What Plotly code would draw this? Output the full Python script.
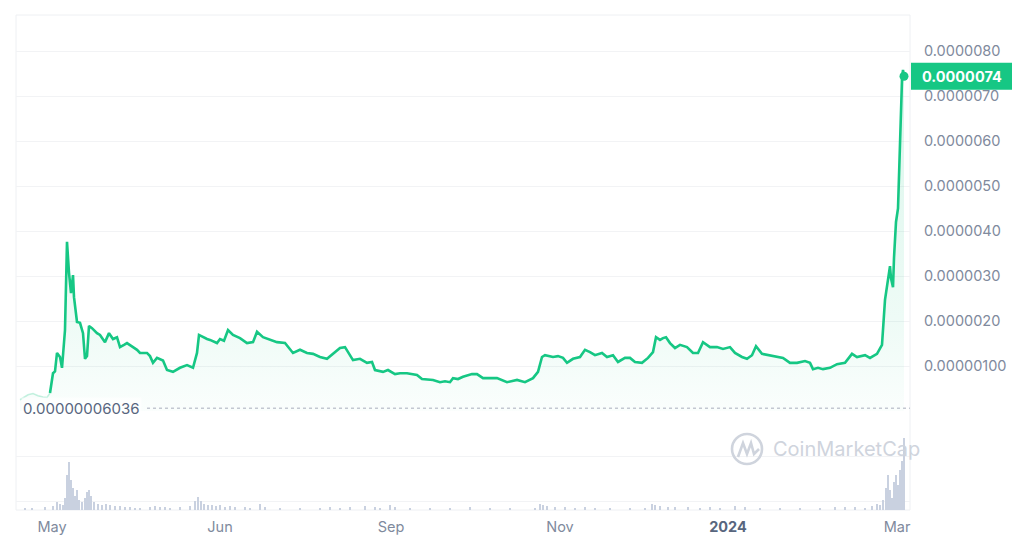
import plotly.graph_objects as go

# ---------------- data ----------------
# timeline index (arbitrary uniform time units) and price in units of 1e-6
t = [0, 4, 8, 13, 18, 23, 27,
     30, 33, 35, 37, 40, 42, 45, 47, 49, 51, 53, 54, 57, 60, 63, 65, 67, 69, 72, 77, 80, 85, 89,
     93, 97, 100, 104, 107, 113, 117, 120, 127, 130, 133, 137, 143, 147, 153, 160, 167, 173, 177, 179,
     183, 187, 190, 197, 200, 204, 208, 213, 220, 227, 233, 237, 243, 250, 257, 265, 270, 273, 280, 287,
     293, 300, 307, 313, 320, 325, 328, 333, 340, 347, 352, 355, 363, 368, 375, 380, 387, 392, 397, 402,
     408, 413, 420, 425, 430, 433, 438, 443, 452, 457, 463, 470, 477, 487, 497, 505, 513, 518, 522, 525,
     529, 533, 538, 543, 547, 553, 560, 565, 570, 575, 582, 587, 593, 598, 605, 610, 615, 622, 628, 633,
     636, 640, 643, 646, 650, 655, 660, 667, 673, 678, 683, 690, 697, 703, 710, 715, 722, 727, 732, 736,
     742, 750, 757, 763, 770, 777, 785, 790, 793, 798, 803, 810, 817, 825, 832, 837, 845, 850, 857, 862,
     865, 868, 870, 871, 873, 874, 876, 878, 880, 882, 883, 884]
price = [0.25, 0.31, 0.36, 0.39, 0.34, 0.31, 0.30,
         0.40, 0.84, 0.88, 1.29, 1.20, 0.96, 1.80, 3.76, 3.07, 2.62, 3.02, 2.53, 1.98, 1.96, 1.73, 1.16, 1.22, 1.89, 1.84, 1.73, 1.69, 1.53, 1.73,
         1.60, 1.64, 1.42, 1.47, 1.51, 1.42, 1.36, 1.29, 1.29, 1.22, 1.07, 1.18, 1.12, 0.91, 0.87, 0.96, 1.02, 0.96, 1.29, 1.69,
         1.64, 1.60, 1.58, 1.51, 1.60, 1.56, 1.80, 1.69, 1.62, 1.51, 1.53, 1.76, 1.64, 1.58, 1.53, 1.51, 1.36, 1.29, 1.36, 1.29,
         1.27, 1.20, 1.16, 1.27, 1.40, 1.42, 1.31, 1.13, 1.16, 1.07, 1.09, 0.91, 0.87, 0.91, 0.82, 0.84, 0.84, 0.82, 0.80, 0.71,
         0.69, 0.69, 0.64, 0.66, 0.64, 0.73, 0.71, 0.76, 0.82, 0.82, 0.73, 0.73, 0.73, 0.64, 0.69, 0.64, 0.73, 0.87, 1.20, 1.24,
         1.22, 1.20, 1.22, 1.18, 1.07, 1.16, 1.20, 1.36, 1.31, 1.24, 1.29, 1.20, 1.24, 1.09, 1.18, 1.18, 1.09, 1.07, 1.18, 1.31,
         1.64, 1.58, 1.62, 1.64, 1.51, 1.40, 1.47, 1.42, 1.29, 1.29, 1.53, 1.42, 1.42, 1.38, 1.42, 1.29, 1.20, 1.16, 1.24, 1.44,
         1.27, 1.24, 1.20, 1.18, 1.07, 1.07, 1.11, 1.07, 0.93, 0.96, 0.93, 0.96, 1.04, 1.07, 1.27, 1.20, 1.24, 1.18, 1.27, 1.47,
         2.47, 2.90, 3.22, 2.95, 2.75, 3.40, 4.20, 4.50, 6.18, 7.36, 7.58, 7.44]
n_faint = 8  # first points drawn faintly (pre-listing)

# volume (relative units)
vol_t = [5, 12, 25, 33, 37, 40, 43, 45, 47, 49, 51, 53, 55, 57, 59, 62, 65, 67, 69, 71, 74, 78, 82, 86, 90, 95,
         100, 105, 110, 115, 120, 130, 135, 140, 145, 150, 160, 170, 175, 178, 181, 184, 188, 192, 196, 200, 205,
         210, 215, 225, 230, 240, 245, 260, 280, 300, 310, 320, 330, 345, 355, 360, 370, 375, 390, 410, 430, 450,
         470, 490, 515, 520, 523, 527, 535, 545, 555, 565, 575, 590, 610, 625, 632, 635, 640, 648, 655, 668, 680,
         690, 700, 715, 725, 740, 760, 780, 800, 815, 825, 835, 845, 852, 857, 860, 863, 866, 868, 870, 872, 874,
         876, 878, 880, 882, 884]
volume = [2, 2, 3, 4, 8, 6, 5, 12, 35, 48, 30, 22, 14, 20, 10, 8, 12, 18, 20, 14, 8, 6, 5, 6, 5, 4,
          4, 3, 3, 2, 2, 3, 4, 3, 3, 2, 3, 4, 9, 13, 9, 6, 5, 5, 4, 5, 3,
          4, 3, 3, 2, 6, 3, 2, 2, 2, 3, 2, 3, 4, 3, 2, 5, 3, 2, 2, 2, 3,
          2, 2, 2, 6, 5, 4, 3, 3, 2, 3, 2, 2, 2, 2, 6, 5, 4, 3, 3, 3, 2,
          3, 2, 4, 3, 2, 2, 2, 2, 3, 3, 3, 2, 4, 6, 5, 10, 22, 35, 20, 12, 28,
          35, 25, 40, 50, 73]

tick_pos = [32, 200, 371, 540, 708, 877]
tick_txt = ["May", "Jun", "Sep", "Nov",
            "<b><span style='color:#58667e'>2024</span></b>", "Mar"]
price_ticks = [1, 2, 3, 4, 5, 6, 7, 8]
price_tick_txt = ["0.00000100", "0.0000020", "0.0000030", "0.0000040",
                  "0.0000050", "0.0000060", "0.0000070", "0.0000080"]
last_label = "0.0000074"
min_value = 0.06036
min_label = "0.00000006036"

GREEN = "#16c784"
# page offset of the figure div (default body margin)
OX, OY = 8, 8
W, H = 1024 - OX, 545 - OY
# desired plot area in page pixels: x 16..910, y 15..510
L, T = 16 - OX, 15 - OY
R = W - (910 - OX)
B = H - (510 - OY)
PW, PH = W - L - R, H - T - B


def px(x):
    return (x - OX - L) / PW


def py(y):
    return (H - B - (y - OY)) / PH


fig = go.Figure()

# faint early segment
fig.add_trace(go.Scatter(x=t[:n_faint], y=price[:n_faint], mode="lines",
                         line=dict(color="rgba(22,199,132,0.25)", width=1.5),
                         fill="tozeroy", fillcolor="rgba(22,199,132,0.03)",
                         hoverinfo="skip", showlegend=False))
# main price line with gradient fill
fig.add_trace(go.Scatter(x=t[n_faint - 1:], y=price[n_faint - 1:], mode="lines",
                         line=dict(color=GREEN, width=2.6),
                         fill="tozeroy",
                         fillgradient=dict(type="vertical",
                                           colorscale=[[0, "rgba(22,199,132,0.02)"],
                                                       [0.25, "rgba(22,199,132,0.07)"],
                                                       [1, "rgba(22,199,132,0.16)"]]),
                         showlegend=False))
# end marker
fig.add_trace(go.Scatter(x=[t[-1]], y=[price[-1]], mode="markers",
                         marker=dict(color=GREEN, size=9), showlegend=False))
# volume
fig.add_trace(go.Bar(x=vol_t, y=volume, yaxis="y2", width=1.8,
                     marker=dict(color="#c9d1e0", line=dict(width=0)),
                     showlegend=False))

grid = "#f2f3f5"
fig.update_layout(
    width=W, height=H,
    margin=dict(l=L, r=R, t=T, b=B),
    paper_bgcolor="white", plot_bgcolor="white",
    font=dict(family="Inter, Roboto, sans-serif", color="#808a9d"),
    bargap=0,
    xaxis=dict(range=[-4, 890], anchor="y2", tickmode="array", tickvals=tick_pos,
               ticktext=tick_txt, showgrid=False, zeroline=False, showline=False,
               ticks="", tickfont=dict(size=14.5, color="#808a9d"), ticklabelstandoff=6),
    yaxis=dict(domain=[py(411), 1], range=[0, 8.8], side="right", tickmode="array",
               tickvals=price_ticks, ticktext=price_tick_txt, showgrid=True, gridcolor=grid,
               gridwidth=1, zeroline=False, ticks="", ticklabelstandoff=13,
               tickfont=dict(size=14.5, color="#808a9d")),
    yaxis2=dict(domain=[0, py(411)], range=[0, 100], tickmode="array", tickvals=[9, 54],
                showticklabels=False, showgrid=True, gridcolor=grid, zeroline=False),
)

shapes = [
    # plot frame
    dict(type="rect", xref="paper", yref="paper", x0=0, x1=1, y0=0, y1=1,
         line=dict(color="#eef0f3", width=1), layer="below"),
    # dotted min line
    dict(type="line", xref="paper", yref="y", x0=px(147), x1=1, y0=min_value, y1=min_value,
         line=dict(color="#c3c8d1", width=1.5, dash="dot")),
    # last price label box
    dict(type="rect", xref="paper", yref="y", x0=px(911), x1=px(1012),
         y0=price[-1] - 0.3, y1=price[-1] + 0.3, fillcolor=GREEN, line=dict(width=0)),
    # watermark logo
    dict(type="circle", xref="paper", yref="paper", x0=px(732), x1=px(762), y0=py(464), y1=py(434),
         line=dict(color="#cfd4dd", width=2.6)),
]
logo_pts = [(738, 457), (743, 443), (747, 454), (751, 443), (754, 454), (759, 449)]
path = "M " + " L ".join(f"{px(a):.5f},{py(b):.5f}" for a, b in logo_pts)
shapes.append(dict(type="path", xref="paper", yref="paper", path=path,
                   line=dict(color="#cfd4dd", width=2.6)))
fig.update_layout(shapes=shapes)

fig.add_annotation(xref="paper", yref="y", x=px(962), y=price[-1], text=f"<b>{last_label}</b>",
                   showarrow=False, font=dict(size=14.5, color="white"), xanchor="center")
fig.add_annotation(xref="paper", yref="y", x=px(21), y=min_value, text=min_label,
                   showarrow=False, font=dict(size=15, color="#58667e"), xanchor="left",
                   yanchor="middle", bgcolor="rgba(255,255,255,0.6)")
fig.add_annotation(xref="paper", yref="paper", x=px(771), y=py(449), text="CoinMarketCap",
                   showarrow=False, font=dict(size=20, color="#cfd4dd"), xanchor="left",
                   yanchor="middle")

fig.write_html("out.html")
